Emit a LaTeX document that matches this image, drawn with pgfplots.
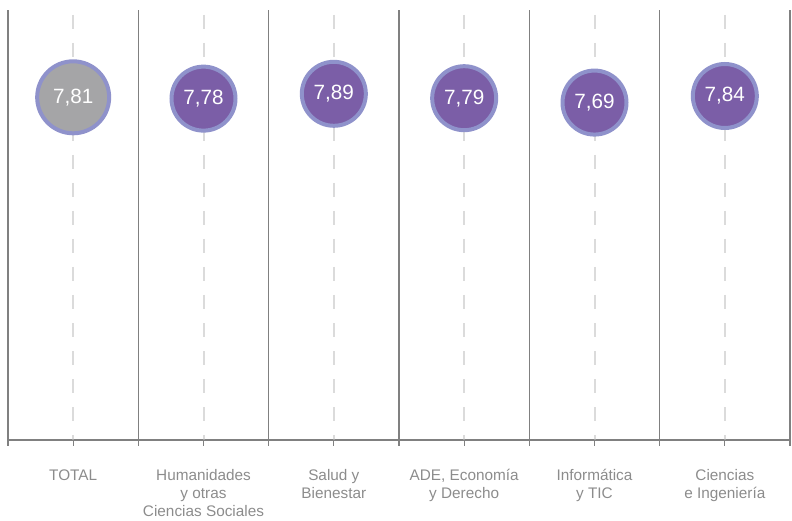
\documentclass[border=0pt]{standalone}
\usepackage{pgfplots}
\pgfplotsset{compat=1.18}
\usepackage{fontspec}
\setmainfont{Liberation Sans}
\definecolor{purp}{HTML}{7B5EA7}
\definecolor{ring}{HTML}{8F92CB}
\definecolor{grayfill}{HTML}{A5A5A7}
\definecolor{sep}{HTML}{808080}
\definecolor{lab}{HTML}{8C8C8C}
\definecolor{dashc}{HTML}{BDBDBD}
\begin{document}
\begin{tikzpicture}
\begin{axis}[
  scale only axis, width=586.5pt, height=322.5pt,
  xmin=-0.5, xmax=5.5, ymin=0, ymax=9.8,
  axis x line=bottom, axis y line=none,
  axis line style={-, draw=sep, line width=0.8pt},
  xtick={0,1,2,3,4,5},
  xticklabels={\raisebox{6.5pt}{TOTAL}, Humanidades\\y otras\\Ciencias Sociales, Salud y\\Bienestar, {ADE, Economía}\\y Derecho, Informática\\y TIC, Ciencias\\e Ingeniería},
  tick align=outside, major tick length=4.5pt,
  tick style={draw=sep, line width=0.8pt},
  extra x ticks={-0.5,0.5,1.5,2.5,3.5,4.5,5.5},
  extra x tick labels={},
  extra x tick style={grid=major, major grid style={draw=sep, line width=0.8pt}, major tick length=4.5pt},
  xticklabel style={anchor=north, align=center, font=\fontsize{11.5}{13.5}\selectfont, text=lab, yshift=-14pt},
  clip=false,
  point meta=y,
  nodes near coords={\pgfmathprintnumber[fixed,fixed zerofill,precision=2,use comma,assume math mode=true]{\pgfplotspointmeta}},
  nodes near coords style={anchor=center, font=\fontsize{15.5}{15.5}\selectfont, text=white},
]
\addplot[only marks, mark=*, mark size=27pt, mark options={fill=grayfill, draw=ring, line width=3pt}] coordinates {(0,7.81)};
\addplot[only marks, mark=*, mark size=24pt, mark options={fill=purp, draw=ring, line width=3pt}] coordinates {(1,7.78) (2,7.89) (3,7.79) (4,7.69) (5,7.84)};
\pgfplotsinvokeforeach{0,...,5}{
  \draw[dashc, line width=1.5pt, dash pattern=on 10.5pt off 10.5pt, dash phase=17.25pt, opacity=0.55] (axis cs:#1,9.8) -- (axis cs:#1,0);
}
\coordinate (sw) at (rel axis cs:0,0);
\coordinate (ne) at (rel axis cs:1,1);
\end{axis}
\pgfresetboundingbox
\path ([xshift=-6pt,yshift=-60.75pt]sw) rectangle ([xshift=1.5pt,yshift=7.5pt]ne);
\end{tikzpicture}
\end{document}
